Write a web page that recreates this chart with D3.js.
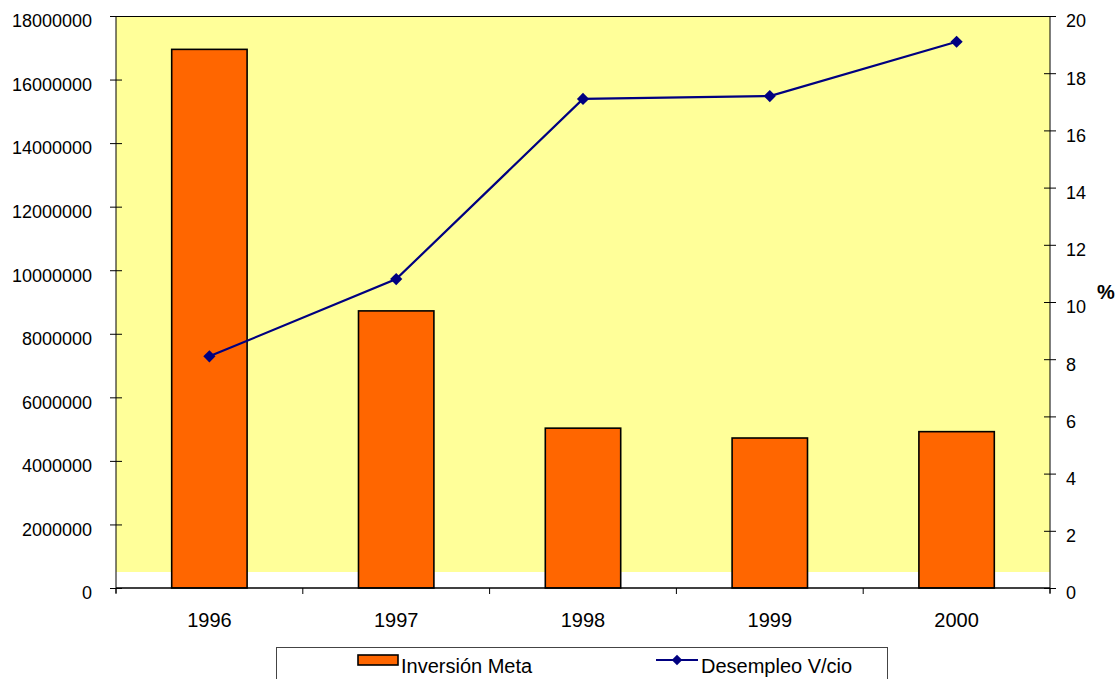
<!DOCTYPE html>
<html><head><meta charset="utf-8">
<script src="https://cdn.jsdelivr.net/npm/d3@7"></script>
<style>body{margin:0;background:#fff}svg{display:block;font-family:"Liberation Sans",Arial,sans-serif}</style>
</head><body><svg id="c" width="1117" height="679"></svg>
<script>
const years = ["1996","1997","1998","1999","2000"];
const inversionMeta = [16950000, 8720000, 5030000, 4720000, 4920000];
const desempleo = [8.1, 10.8, 17.1, 17.2, 19.1];
const leftTicks = [0,2000000,4000000,6000000,8000000,10000000,12000000,14000000,16000000,18000000];
const rightTicks = [0,2,4,6,8,10,12,14,16,18,20];

const svg = d3.select("#c");
const L=116, R=1050, T=16, B=588;
const xb = d3.scaleBand().domain(years).range([L,R]);
const yL = d3.scaleLinear().domain([0,18000000]).range([B,T]);
const yR = d3.scaleLinear().domain([0,20]).range([B,T]);

svg.append("rect").attr("x",L).attr("y",T).attr("width",R-L).attr("height",572-T).attr("fill","#FFFF99");
svg.append("line").attr("x1",L).attr("x2",R).attr("y1",T+0.5).attr("y2",T+0.5).attr("stroke","#000").attr("stroke-width",1);

svg.selectAll("rect.bar").data(years).join("rect").attr("class","bar")
  .attr("x",d=>xb(d)+xb.bandwidth()/2-37.7).attr("width",75.4)
  .attr("y",(d,i)=>yL(inversionMeta[i])).attr("height",(d,i)=>B-yL(inversionMeta[i]))
  .attr("fill","#FF6600").attr("stroke","#000").attr("stroke-width",1.6);

// left axis
const la = svg.append("g").attr("transform",`translate(${L},0)`)
  .call(d3.axisLeft(yL).tickValues(leftTicks).tickFormat(d3.format("d")).tickSize(6).tickPadding(10));
la.selectAll(".tick line").attr("x2",-6).attr("x1",6);
la.select(".domain").remove();
la.append("line").attr("y1",T).attr("y2",B+5).attr("stroke","#000");
la.selectAll("text").attr("font-size",18).attr("font-family","Liberation Sans, Arial").attr("fill","#000");
la.selectAll(".tick text").attr("x",-24).attr("dy","0.6em");

// right axis
const ra = svg.append("g").attr("transform",`translate(${R},0)`)
  .call(d3.axisRight(yR).tickValues(rightTicks).tickSize(6).tickPadding(10));
ra.selectAll(".tick line").attr("x1",-6).attr("x2",6);
ra.select(".domain").remove();
ra.append("line").attr("y1",T).attr("y2",B+5).attr("stroke","#000");
ra.selectAll("text").attr("font-size",18).attr("font-family","Liberation Sans, Arial").attr("fill","#000");
ra.selectAll(".tick text").attr("x",16).attr("dy","0.6em");

// x axis
svg.append("line").attr("x1",L).attr("x2",R).attr("y1",B).attr("y2",B).attr("stroke","#000").attr("stroke-width",1.5);
const bounds = years.map(d=>xb(d)).concat([R]);
svg.selectAll("line.xt").data(bounds).join("line").attr("class","xt")
  .attr("x1",d=>d).attr("x2",d=>d).attr("y1",B).attr("y2",B+6).attr("stroke","#000");
svg.selectAll("text.xl").data(years).join("text").attr("class","xl")
  .attr("x",d=>xb(d)+xb.bandwidth()/2).attr("y",627).attr("text-anchor","middle")
  .attr("font-size",20).text(d=>d);

// line
const pts = years.map((d,i)=>[xb(d)+xb.bandwidth()/2, yR(desempleo[i])]);
svg.append("path").attr("d",d3.line()(pts)).attr("fill","none").attr("stroke","#000080").attr("stroke-width",2.2);
svg.selectAll("path.mk").data(pts).join("path").attr("class","mk")
  .attr("transform",d=>`translate(${d[0]},${d[1]})`)
  .attr("d",d3.symbol(d3.symbolDiamond2,95)()).attr("fill","#000080");

svg.append("text").attr("x",1106).attr("y",299).attr("text-anchor","middle").attr("font-size",20).attr("font-weight","bold").text("%");

// legend
const lg = svg.append("g");
lg.append("rect").attr("x",276.5).attr("y",647.5).attr("width",611).attr("height",40).attr("fill","#fff").attr("stroke","#444").attr("stroke-width",1);
lg.append("rect").attr("x",358).attr("y",655).attr("width",40).attr("height",10).attr("fill","#FF6600").attr("stroke","#000").attr("stroke-width",1.6);
lg.append("text").attr("x",401).attr("y",673).attr("font-size",20).text("Inversión Meta");
lg.append("line").attr("x1",656).attr("x2",698).attr("y1",660).attr("y2",660).attr("stroke","#000080").attr("stroke-width",2.2);
lg.append("path").attr("transform","translate(677,660)").attr("d",d3.symbol(d3.symbolDiamond2,70)()).attr("fill","#000080");
lg.append("text").attr("x",701).attr("y",673).attr("font-size",20).text("Desempleo V/cio");
</script></body></html>
